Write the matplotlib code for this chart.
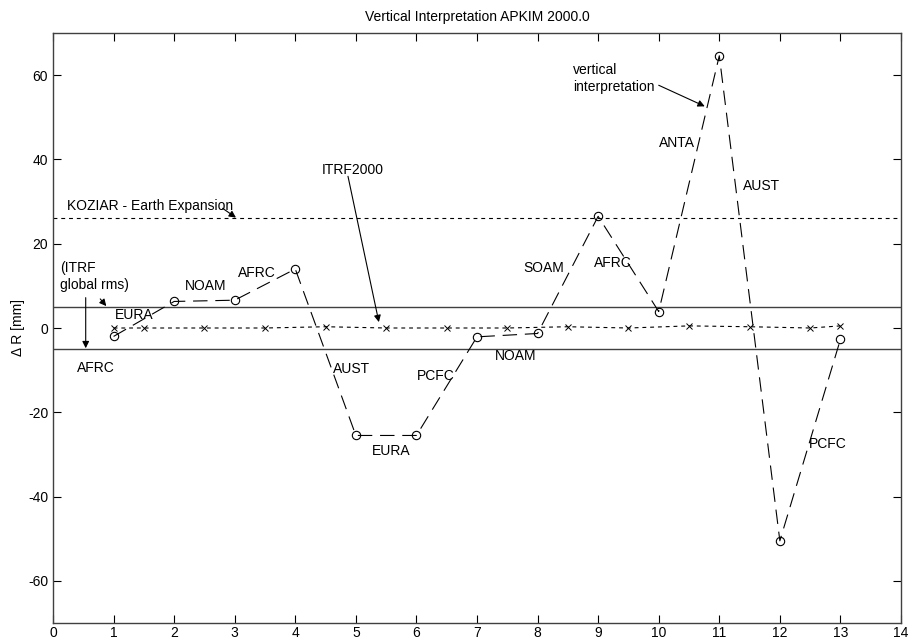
import numpy as np
import matplotlib.pyplot as plt

plt.rcParams['font.family'] = ['Liberation Sans', 'DejaVu Sans']
plt.rcParams['axes.unicode_minus'] = False

# vertical interpretation (APKIM 2000.0) per plate pair
plate_x = [1, 2, 3, 4, 5, 6, 7, 8, 9, 10, 11, 12, 13]
vert_dr = [-2.0, 6.3, 6.6, 14.0, -25.5, -25.5, -2.1, -1.3, 26.5, 3.9, 64.6, -50.5, -2.7]

# ITRF2000 values
itrf_x = [1, 1.5, 2.5, 3.5, 4.5, 5.5, 6.5, 7.5, 8.5, 9.5, 10.5, 11.5, 12.5, 13]
itrf_dr = [0.0, 0.0, 0.0, 0.0, 0.3, 0.0, 0.0, 0.0, 0.3, 0.0, 0.5, 0.3, 0.0, 0.5]

koziar = 26.0
itrf_rms = 5.0

seg_labels = ['EURA', 'NOAM', 'AFRC', 'AUST', 'EURA', 'PCFC', 'NOAM',
              'SOAM', 'AFRC', 'ANTA', 'AUST', 'PCFC']
seg_lx = [1.02, 2.18, 3.05, 4.62, 5.27, 6.0, 7.29, 7.77, 8.93, 10.0, 11.39, 12.48]
seg_ly = [3.1, 10.0, 13.1, -9.8, -29.3, -11.4, -6.7, 14.3, 15.5, 43.8, 33.8, -27.6]

fig = plt.figure(figsize=(9.08, 6.43), dpi=100)
ax = fig.add_axes([53 / 908, 20 / 643, 848 / 908, 590 / 643])

fc = '#404040'
ax.axhline(itrf_rms, color=fc, lw=1.0)
ax.axhline(-itrf_rms, color=fc, lw=1.0)
ax.axhline(koziar, color='black', lw=0.8, dashes=(3.5, 3.5))

ax.plot(itrf_x, itrf_dr, color='black', lw=0.8, dashes=(3.5, 3.5),
        marker='x', ms=4, mew=0.7)
ax.plot(plate_x, vert_dr, color='black', lw=0.8, dashes=(13, 7),
        marker='o', ms=6, mfc='none', mew=0.8)

fs = 10
for t, x, y in zip(seg_labels, seg_lx, seg_ly):
    ax.text(x, y, t, fontsize=fs, va='center', ha='left')

arr = dict(arrowstyle='-|>', color='black', lw=0.8, mutation_scale=10,
           shrinkA=0, shrinkB=0)

ax.text(0.23, 29.0, 'KOZIAR - Earth Expansion', fontsize=fs, va='center', ha='left')
ax.annotate('', xy=(3.02, 26.2), xytext=(2.8, 28.4), arrowprops=arr)

ax.text(4.44, 37.6, 'ITRF2000', fontsize=fs, va='center', ha='left')
ax.annotate('', xy=(5.38, 1.4), xytext=(4.87, 36.0), arrowprops=arr)

ax.text(0.12, 12.2, '(ITRF\nglobal rms)', fontsize=fs, va='center', ha='left',
        linespacing=1.2)
ax.annotate('', xy=(0.88, 5.2), xytext=(0.78, 6.9), arrowprops=arr)
ax.annotate('', xy=(0.54, -4.8), xytext=(0.54, 7.2), arrowprops=arr)
ax.text(0.4, -9.5, 'AFRC', fontsize=fs, va='center', ha='left')

ax.text(8.58, 59.2, 'vertical\ninterpretation', fontsize=fs, va='center',
        ha='left', linespacing=1.2)
ax.annotate('', xy=(10.76, 52.6), xytext=(10.0, 57.6), arrowprops=arr)

ax.set_xlim(0, 14)
ax.set_ylim(-70, 70)
ax.set_xticks(range(0, 15))
ax.set_yticks(range(-60, 61, 20))
ax.tick_params(direction='in', length=6, width=0.8, top=True, right=True,
               labelsize=fs, colors='black')
ax.tick_params(axis='x', pad=2)
for s in ax.spines.values():
    s.set_color(fc)
    s.set_linewidth(1.0)

ax.set_ylabel('Δ R [mm]', fontsize=fs, labelpad=2)
ax.set_title('Vertical Interpretation APKIM 2000.0', fontsize=fs, pad=9)

fig.savefig('out.png', dpi=100)
